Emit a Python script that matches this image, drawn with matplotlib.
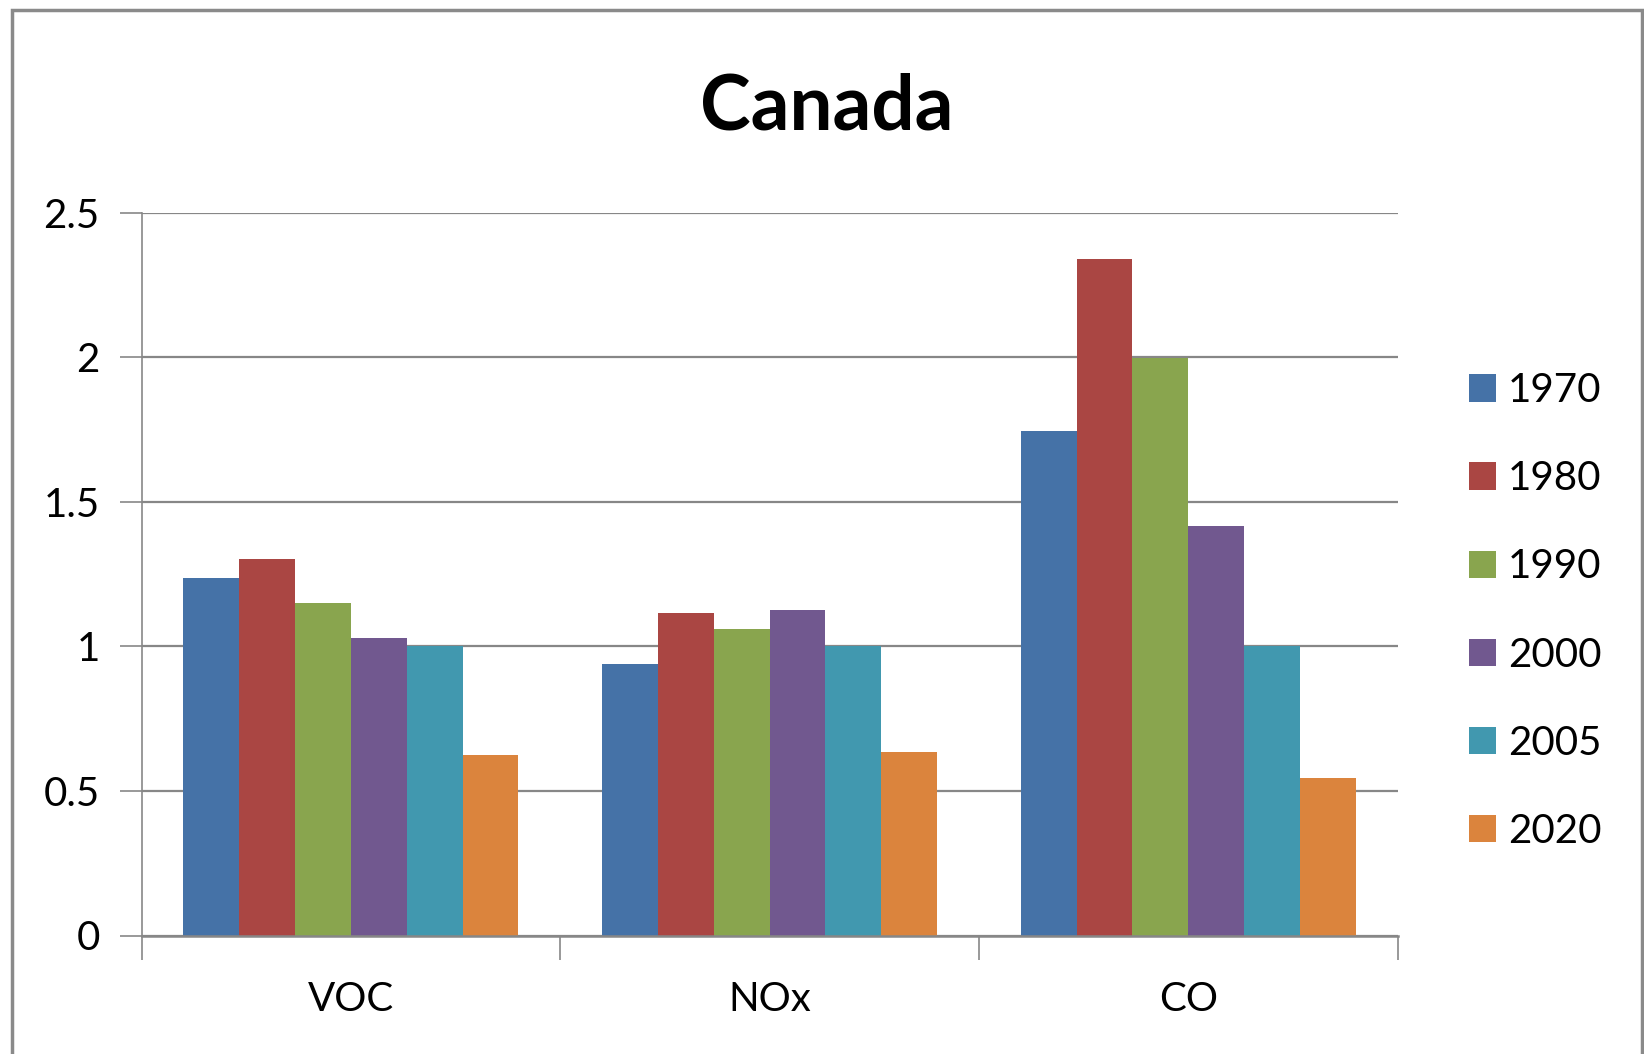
import matplotlib
matplotlib.use("Agg")
import matplotlib.pyplot as plt
from matplotlib.patches import Rectangle
import numpy as np

plt.rcParams['font.family'] = ['Lato', 'DejaVu Sans']

categories = ["VOC", "NOx", "CO"]
years = ["1970", "1980", "1990", "2000", "2005", "2020"]
v1970 = [1.238, 0.939, 1.745]
v1980 = [1.301, 1.117, 2.340]
v1990 = [1.149, 1.060, 1.998]
v2000 = [1.029, 1.126, 1.416]
v2005 = [1.000, 1.000, 1.000]
v2020 = [0.625, 0.634, 0.545]
series = [v1970, v1980, v1990, v2000, v2005, v2020]
colors = ["#4572A7", "#AA4643", "#89A54E", "#71588F", "#4198AF", "#DB843D"]
yticks = [0, 0.5, 1, 1.5, 2, 2.5]
ytick_labels = ["0", "0.5", "1", "1.5", "2", "2.5"]

W, H = 1644, 1054
fig = plt.figure(figsize=(W / 100, H / 100), dpi=100)
ax = fig.add_axes([141.5 / W, 1 - 935.5 / H, (1397.6 - 141.5) / W, (935.5 - 212.7) / H])

grid_c = "#878787"
n = len(series)
bw = 0.8 / n
centers = np.arange(len(categories)) + 0.5
for i, (vals, c, lab) in enumerate(zip(series, colors, years)):
    ax.bar(centers - 0.4 + bw * (i + 0.5), vals, width=bw, color=c, label=lab,
           edgecolor="none", zorder=3)

ax.set_xlim(0, len(categories))
ax.set_ylim(0, 2.5)
ax.set_yticks(yticks)
ax.set_yticklabels(ytick_labels)
ax.set_xticks(np.arange(len(categories) + 1))
ax.set_xticklabels([])
ax.set_xticks(centers, minor=True)
ax.set_xticklabels(categories, minor=True)
ax.tick_params(axis="x", which="major", length=17, width=1.2, color=grid_c, direction="out")
ax.tick_params(axis="x", which="minor", length=0, pad=33, labelsize=29)
ax.tick_params(axis="y", length=16, width=1.2, color=grid_c, pad=14, labelsize=29)

ax.yaxis.grid(True, color=grid_c, linewidth=1.6, zorder=0)
ax.set_axisbelow(True)
for s in ["top", "right"]:
    ax.spines[s].set_visible(False)
ax.spines["left"].set_color(grid_c)
ax.spines["left"].set_linewidth(1.2)
ax.spines["bottom"].set_color(grid_c)
ax.spines["bottom"].set_linewidth(1.8)
ax.spines["bottom"].set_zorder(4)

fig.text(827 / W, 1 - 130 / H, "Canada", ha="center", va="baseline",
         fontsize=55, fontweight="bold")

leg = fig.legend(loc="center left", bbox_to_anchor=(1469 / W, 1 - 611 / H),
                 frameon=False, fontsize=29, handlelength=0.67, handleheight=0.67,
                 handletextpad=0.3, labelspacing=1.27, borderpad=0, borderaxespad=0)

fig.patches.append(Rectangle((12 / W, -0.02), (1642 - 12) / W, 1.02 - 10 / H,
                             transform=fig.transFigure, fill=False,
                             edgecolor="#8a8a8a", linewidth=2.5))

fig.savefig("out.png", dpi=100)
